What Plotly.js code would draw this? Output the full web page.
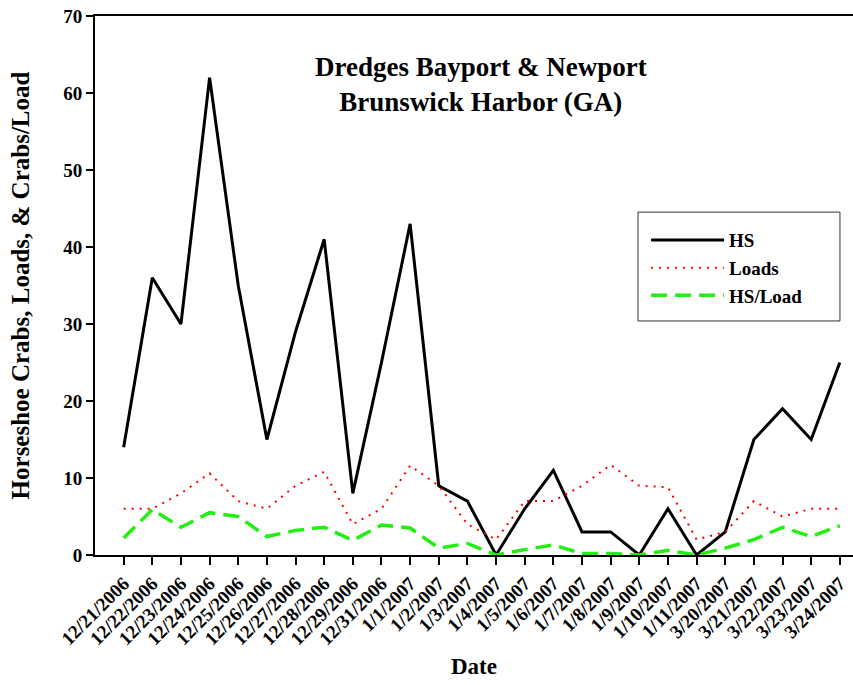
<!DOCTYPE html>
<html>
<head>
<meta charset="UTF-8">
<script src="https://cdn.plot.ly/plotly-3.0.1.min.js"></script>
<style>
	body { margin: 0; padding: 0; background: #fff; }
	#plot { width: 853px; height: 685px; }
</style>
</head>
<body>
<div id="plot"></div>
<script>
	// dates on the x axis (category axis, not real dates)
	var dates = ['12/21/2006','12/22/2006','12/23/2006','12/24/2006','12/25/2006','12/26/2006',
		'12/27/2006','12/28/2006','12/29/2006','12/31/2006','1/1/2007','1/2/2007','1/3/2007',
		'1/4/2007','1/5/2007','1/6/2007','1/7/2007','1/8/2007','1/9/2007','1/10/2007',
		'1/11/2007','3/20/2007','3/21/2007','3/22/2007','3/23/2007','3/24/2007'];

	// horseshoe crabs counted
	var hs = [14, 36, 30, 62, 35, 15, 29, 41, 8, 25, 43, 9, 7, 0, 6, 11, 3, 3, 0, 6, 0, 3, 15, 19, 15, 25];
	// dredge loads
	var loads = [6, 6, 8, 10.6, 7, 6, 9, 10.8, 4, 6, 11.6, 9, 4, 2, 7, 7, 9, 11.7, 9, 8.8, 2, 3, 7, 5, 6, 6];
	// crabs per load
	var hsPerLoad = [2.2, 5.9, 3.6, 5.5, 5.0, 2.4, 3.2, 3.6, 1.9, 3.9, 3.5, 0.9, 1.5, 0, 0.7, 1.3, 0.2, 0.2, 0, 0.6, 0, 0.9, 2.0, 3.6, 2.4, 3.8];

	var serif = 'Liberation Serif, Times New Roman, serif';

	var traceHS =
	{
		x: dates,
		y: hs,
		type: 'scatter',
		mode: 'lines',
		name: 'HS',
		line: {color: '#000000', width: 3}
	};
	var traceLoads =
	{
		x: dates,
		y: loads,
		type: 'scatter',
		mode: 'lines',
		name: 'Loads',
		line: {color: '#ff0000', width: 2, dash: '2px,6px'}
	};
	var traceRatio =
	{
		x: dates,
		y: hsPerLoad,
		type: 'scatter',
		mode: 'lines',
		name: 'HS/Load',
		line: {color: '#22ee11', width: 3.5, dash: '16px,8px'}
	};

	var layout =
	{
		width: 853,
		height: 685,
		margin: {l: 95, r: 0, t: 16, b: 130},
		paper_bgcolor: '#ffffff',
		plot_bgcolor: '#ffffff',
		font: {family: serif, color: '#000000', weight: 'bold'},
		showlegend: true,
		legend:
		{
			x: 0.727,
			y: 0.6195,
			xanchor: 'left',
			yanchor: 'top',
			bgcolor: 'rgba(0,0,0,0)',
			borderwidth: 0,
			font: {family: serif, size: 19, weight: 'bold'},
			itemwidth: 73
		},
		xaxis:
		{
			type: 'category',
			range: [-1, 25.46],
			showgrid: false,
			zeroline: false,
			showline: true,
			linecolor: '#000000',
			linewidth: 2,
			mirror: true,
			ticks: 'outside',
			ticklen: 8,
			tickwidth: 2,
			tickcolor: '#000000',
			tickangle: -45,
			tickfont: {family: serif, size: 19, weight: 'bold'},
			title: {text: 'Date', font: {family: serif, size: 23, weight: 'bold'}, standoff: 10}
		},
		yaxis:
		{
			range: [0, 70],
			dtick: 10,
			showgrid: false,
			zeroline: false,
			showline: true,
			linecolor: '#000000',
			linewidth: 2,
			ticks: 'outside',
			ticklen: 7,
			tickwidth: 2,
			tickcolor: '#000000',
			tickfont: {family: serif, size: 19, weight: 'bold'},
			title: {text: 'Horseshoe Crabs, Loads, & Crabs/Load', font: {family: serif, size: 25, weight: 'bold'}, standoff: 26}
		},
		// legend frame
		shapes:
		[
			{
				type: 'rect', xref: 'paper', yref: 'paper',
				x0: 0.7164, x1: 0.9828, y0: 0.4342, y1: 0.6362,
				line: {color: '#333333', width: 1},
				fillcolor: 'rgba(0,0,0,0)',
				layer: 'above'
			}
		],
		annotations:
		[
			{
				xref: 'paper', yref: 'paper',
				x: 0.509, y: 0.8725,
				xanchor: 'center', yanchor: 'middle',
				showarrow: false,
				align: 'center',
				text: 'Dredges Bayport &amp; Newport<br>Brunswick Harbor (GA)',
				font: {family: serif, size: 27, weight: 'bold'}
			}
		]
	};

	var config = {displayModeBar: false, staticPlot: true};

	Plotly.newPlot('plot', [traceHS, traceLoads, traceRatio], layout, config);
</script>
</body>
</html>
